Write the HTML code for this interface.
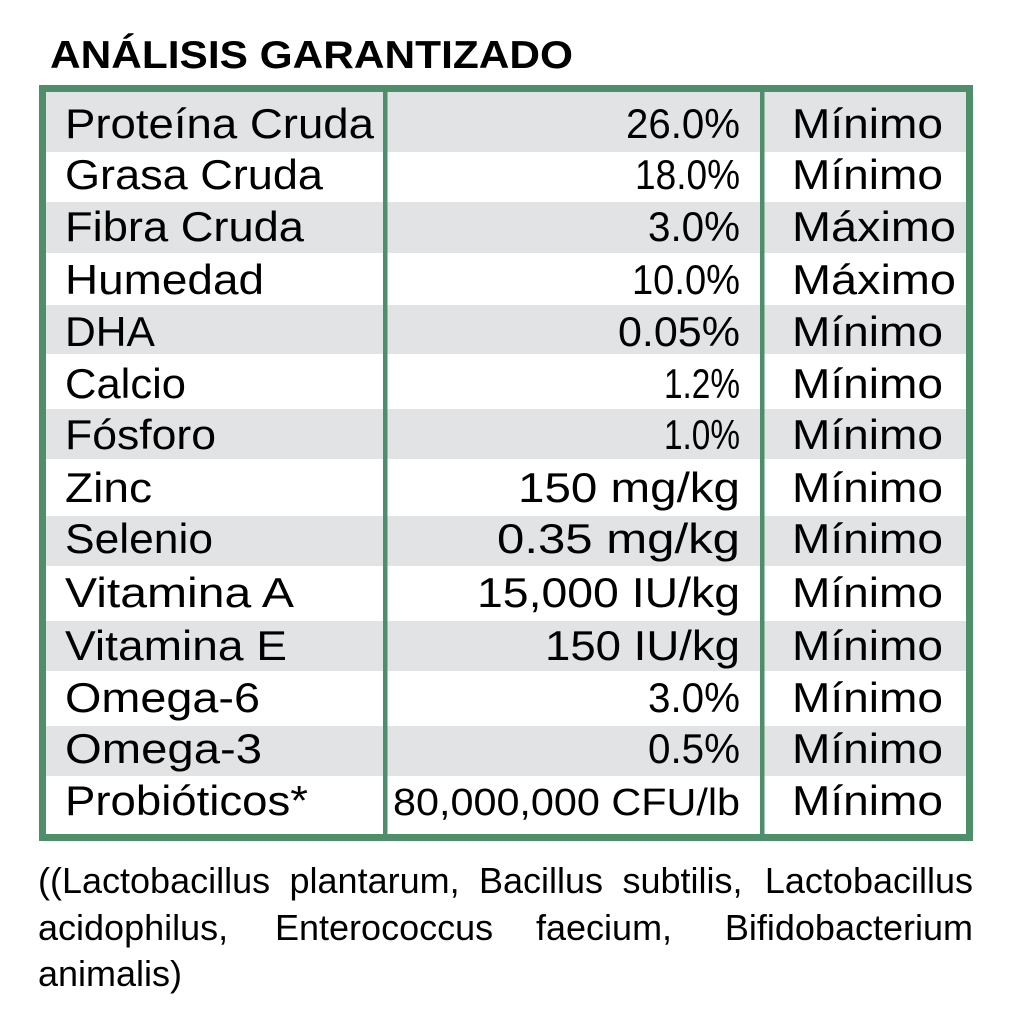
<!DOCTYPE html>
<html>
<head>
<meta charset="utf-8">
<style>
  html, body { margin: 0; padding: 0; background: #ffffff; }
  body { width: 1020px; height: 1024px; overflow: hidden; }
  svg { display: block; }
  .t { font-family: "Liberation Sans", "DejaVu Sans", sans-serif; fill: #000; }
</style>
</head>
<body>
<svg width="1020" height="1024" viewBox="0 0 1020 1024" xmlns="http://www.w3.org/2000/svg">
  <rect x="0" y="0" width="1020" height="1024" fill="#ffffff"/>

  <!-- Title -->
  <text class="t" x="50" y="68" font-size="39" font-weight="bold" textLength="523" lengthAdjust="spacingAndGlyphs">ANÁLISIS GARANTIZADO</text>

  <!-- Gray stripes -->
  <g fill="#e2e3e5">
    <rect x="46" y="92" width="920" height="60"/>
    <rect x="46" y="202" width="920" height="51"/>
    <rect x="46" y="305" width="920" height="49"/>
    <rect x="46" y="409" width="920" height="50"/>
    <rect x="46" y="516" width="920" height="50"/>
    <rect x="46" y="621" width="920" height="50"/>
    <rect x="46" y="726" width="920" height="50"/>
  </g>

  <!-- Borders -->
  <rect x="42.5" y="88.5" width="927" height="749" fill="none" stroke="#4f8e6b" stroke-width="7"/>
  <rect x="383" y="90" width="4.5" height="746" fill="#4f8e6b"/>
  <rect x="760" y="90" width="4.5" height="746" fill="#4f8e6b"/>

  <!-- Labels -->
  <g class="t" font-size="42">
    <text class="t" x="65" y="138" textLength="309" lengthAdjust="spacingAndGlyphs">Proteína Cruda</text>
    <text class="t" x="65" y="189" textLength="258" lengthAdjust="spacingAndGlyphs">Grasa Cruda</text>
    <text class="t" x="65" y="241" textLength="239" lengthAdjust="spacingAndGlyphs">Fibra Cruda</text>
    <text class="t" x="65" y="294" textLength="199" lengthAdjust="spacingAndGlyphs">Humedad</text>
    <text class="t" x="65" y="346" textLength="90" lengthAdjust="spacingAndGlyphs">DHA</text>
    <text class="t" x="65" y="398" textLength="121" lengthAdjust="spacingAndGlyphs">Calcio</text>
    <text class="t" x="65" y="449" textLength="151" lengthAdjust="spacingAndGlyphs">Fósforo</text>
    <text class="t" x="65" y="502" textLength="87" lengthAdjust="spacingAndGlyphs">Zinc</text>
    <text class="t" x="65" y="553" textLength="148" lengthAdjust="spacingAndGlyphs">Selenio</text>
    <text class="t" x="65" y="607" textLength="229" lengthAdjust="spacingAndGlyphs">Vitamina A</text>
    <text class="t" x="65" y="660" textLength="222" lengthAdjust="spacingAndGlyphs">Vitamina E</text>
    <text class="t" x="65" y="712" textLength="195" lengthAdjust="spacingAndGlyphs">Omega-6</text>
    <text class="t" x="65" y="763" textLength="197" lengthAdjust="spacingAndGlyphs">Omega-3</text>
    <text class="t" x="65" y="815" textLength="243" lengthAdjust="spacingAndGlyphs">Probióticos*</text>
  </g>

  <!-- Values -->
  <g class="t" font-size="42" text-anchor="end">
    <text class="t" x="740" y="138" textLength="114" lengthAdjust="spacingAndGlyphs">26.0%</text>
    <text class="t" x="740" y="189" textLength="105" lengthAdjust="spacingAndGlyphs">18.0%</text>
    <text class="t" x="740" y="241" textLength="92" lengthAdjust="spacingAndGlyphs">3.0%</text>
    <text class="t" x="740" y="294" textLength="108" lengthAdjust="spacingAndGlyphs">10.0%</text>
    <text class="t" x="740" y="346" textLength="122" lengthAdjust="spacingAndGlyphs">0.05%</text>
    <text class="t" x="740" y="398" textLength="76" lengthAdjust="spacingAndGlyphs">1.2%</text>
    <text class="t" x="740" y="449" textLength="76" lengthAdjust="spacingAndGlyphs">1.0%</text>
    <text class="t" x="740" y="502" textLength="222" lengthAdjust="spacingAndGlyphs">150 mg/kg</text>
    <text class="t" x="740" y="553" textLength="243" lengthAdjust="spacingAndGlyphs">0.35 mg/kg</text>
    <text class="t" x="740" y="607" textLength="263" lengthAdjust="spacingAndGlyphs">15,000 IU/kg</text>
    <text class="t" x="740" y="660" textLength="195" lengthAdjust="spacingAndGlyphs">150 IU/kg</text>
    <text class="t" x="740" y="712" textLength="92" lengthAdjust="spacingAndGlyphs">3.0%</text>
    <text class="t" x="740" y="763" textLength="92" lengthAdjust="spacingAndGlyphs">0.5%</text>
    <text class="t" x="740" y="815" font-size="38" textLength="347" lengthAdjust="spacingAndGlyphs">80,000,000 CFU/lb</text>
  </g>

  <!-- Third column -->
  <g class="t" font-size="42">
    <text class="t" x="792" y="138" textLength="151" lengthAdjust="spacingAndGlyphs">Mínimo</text>
    <text class="t" x="792" y="189" textLength="151" lengthAdjust="spacingAndGlyphs">Mínimo</text>
    <text class="t" x="792" y="241" textLength="164" lengthAdjust="spacingAndGlyphs">Máximo</text>
    <text class="t" x="792" y="294" textLength="164" lengthAdjust="spacingAndGlyphs">Máximo</text>
    <text class="t" x="792" y="346" textLength="151" lengthAdjust="spacingAndGlyphs">Mínimo</text>
    <text class="t" x="792" y="398" textLength="151" lengthAdjust="spacingAndGlyphs">Mínimo</text>
    <text class="t" x="792" y="449" textLength="151" lengthAdjust="spacingAndGlyphs">Mínimo</text>
    <text class="t" x="792" y="502" textLength="151" lengthAdjust="spacingAndGlyphs">Mínimo</text>
    <text class="t" x="792" y="553" textLength="151" lengthAdjust="spacingAndGlyphs">Mínimo</text>
    <text class="t" x="792" y="607" textLength="151" lengthAdjust="spacingAndGlyphs">Mínimo</text>
    <text class="t" x="792" y="660" textLength="151" lengthAdjust="spacingAndGlyphs">Mínimo</text>
    <text class="t" x="792" y="712" textLength="151" lengthAdjust="spacingAndGlyphs">Mínimo</text>
    <text class="t" x="792" y="763" textLength="151" lengthAdjust="spacingAndGlyphs">Mínimo</text>
    <text class="t" x="792" y="815" textLength="151" lengthAdjust="spacingAndGlyphs">Mínimo</text>
  </g>

  <!-- Footnote -->
  <g class="t" font-size="36">
    <text class="t" x="38" y="893">((Lactobacillus</text>
    <text class="t" x="289.5" y="893">plantarum,</text>
    <text class="t" x="479" y="893">Bacillus</text>
    <text class="t" x="622.5" y="893">subtilis,</text>
    <text class="t" x="973" y="893" text-anchor="end">Lactobacillus</text>

    <text class="t" x="38" y="940">acidophilus,</text>
    <text class="t" x="275" y="940">Enterococcus</text>
    <text class="t" x="536" y="940">faecium,</text>
    <text class="t" x="973" y="940" text-anchor="end">Bifidobacterium</text>

    <text class="t" x="38" y="986">animalis)</text>
  </g>
</svg>
</body>
</html>
